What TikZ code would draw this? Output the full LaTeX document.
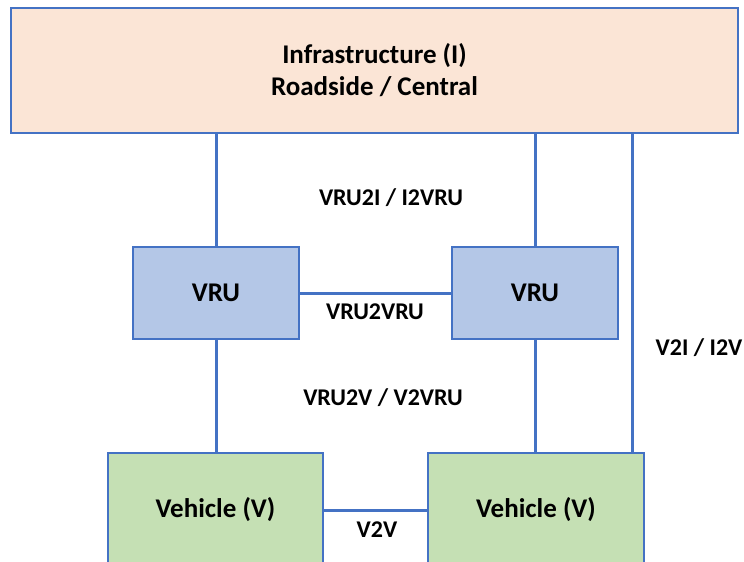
\documentclass[tikz,border=0pt]{standalone}
\usepackage{fontspec}
\setmainfont{Carlito}
\usepackage{tikz}
\definecolor{peach}{RGB}{251, 229, 214}
\definecolor{paleblue}{RGB}{180, 199, 231}
\definecolor{palegreen}{RGB}{197, 224, 180}
\definecolor{linkblue}{RGB}{68, 114, 196}

\tikzset{
    unit/.style={draw=linkblue, line width=1.2pt, font=\fontsize{27}{32}\selectfont\bfseries, align=center, inner sep=0pt},
    link/.style={draw=linkblue, line width=3pt},
    tag/.style={font=\fontsize{24}{28}\selectfont\bfseries, inner sep=0pt}
}

\begin{document}
\begin{tikzpicture}[x=1pt, y=-1pt]
            \useasboundingbox (0,0) rectangle (744,562);
            % Infrastructure
            \node[unit, fill=peach, minimum width=727pt, minimum height=125pt] (infra) at (374.5,70.5) {Infrastructure (I)\\Roadside / Central};
            % VRUs
            \node[unit, fill=paleblue, minimum width=166pt, minimum height=92pt] (vruA) at (216,293) {VRU};
            \node[unit, fill=paleblue, minimum width=166pt, minimum height=92pt] (vruB) at (535,293) {VRU};
            % Vehicles
            \node[unit, fill=palegreen, minimum width=215pt, minimum height=114pt] (vehA) at (215.5,510) {Vehicle (V)};
            \node[unit, fill=palegreen, minimum width=216pt, minimum height=114pt] (vehB) at (536,510) {Vehicle (V)};
            % Links
            \draw[link] (vruA.north) -- (vruA.north |- infra.south);
            \draw[link] (vruB.north) -- (vruB.north |- infra.south);
            \draw[link] (vruA.south) -- (vruA.south |- vehA.north);
            \draw[link] (vruB.south) -- (vruB.south |- vehB.north);
            \draw[link] (vruA.east) -- (vruB.west);
            \draw[link] (vehA.east) -- (vehB.west);
            \coordinate (vside) at ([xshift=-12pt]vehB.north east);
            \draw[link] (vside) -- (vside |- infra.south);
            % Link names
            \node[tag] (i2vru) at (391,198) {VRU2I / I2VRU};
            \node[tag] (vru2vru) at (375,312) {VRU2VRU};
            \node[tag] (v2vru) at (383,398) {VRU2V / V2VRU};
            \node[tag] (i2v) at (699,348) {V2I / I2V};
            \node[tag] (v2v) at (377,530) {V2V};
        \end{tikzpicture}
\end{document}
